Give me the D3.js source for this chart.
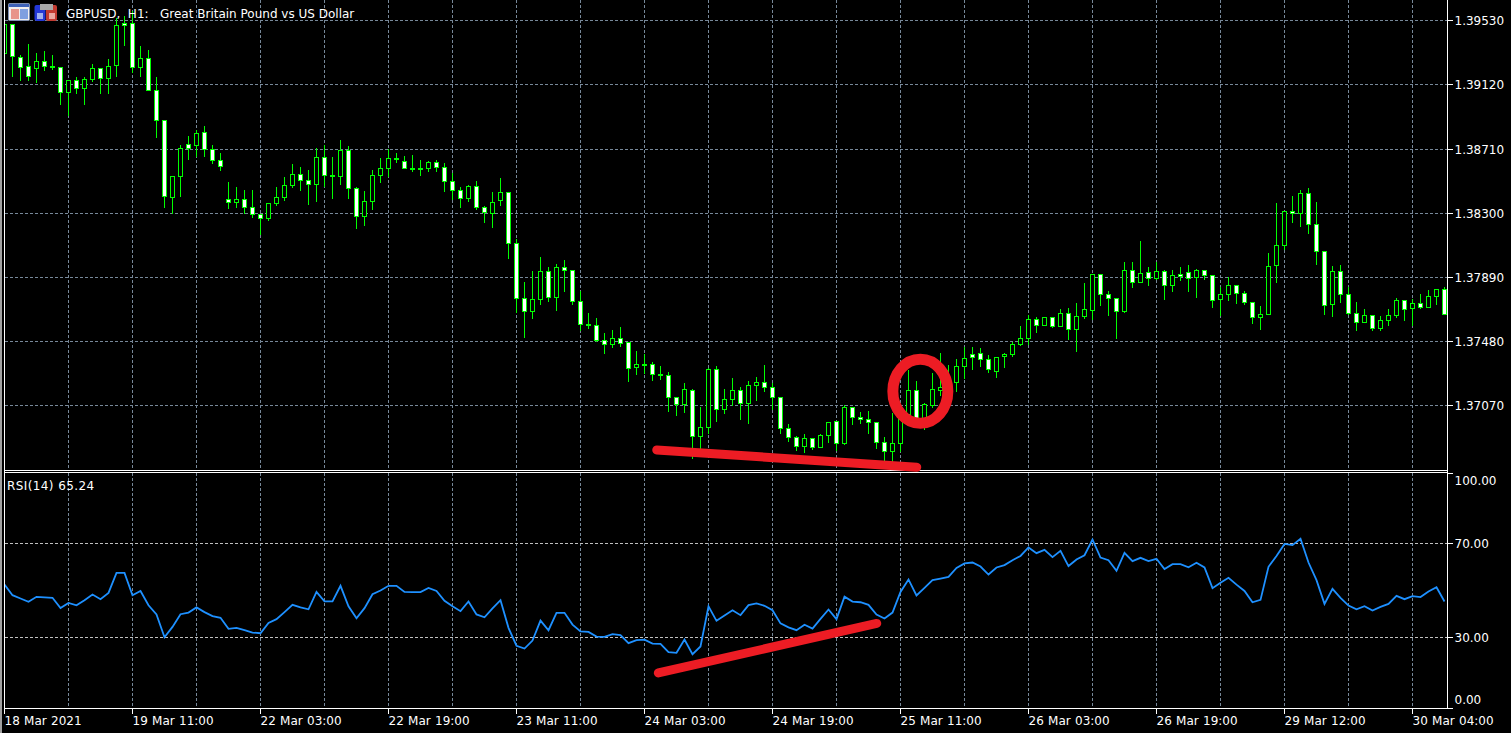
<!DOCTYPE html>
<html>
<head>
<meta charset="utf-8">
<title>GBPUSD H1</title>
<script src="https://cdn.jsdelivr.net/npm/d3@7"></script>
<style>
  html, body { margin: 0; padding: 0; background: #000; overflow: hidden; }
  text { font-family: "DejaVu Sans", sans-serif; font-size: 12px; fill: #fff; }
</style>
</head>
<body>
<div id="chart"></div>
<script>
// GBPUSD H1 candles with RSI(14) pane

const opens = [
  1.39319,1.39505,1.39294,1.39236,1.39223,1.39268,1.39236,1.39230,1.39070,1.39147,
  1.39096,1.39153,1.39223,1.39160,1.39243,1.39511,1.39511,1.39230,1.39287,1.39083,
  1.38891,1.38399,1.38533,1.38738,1.38731,1.38815,1.38706,1.38636,1.38386,1.38367,
  1.38386,1.38335,1.38291,1.38265,1.38361,1.38399,1.38476,1.38546,1.38508,1.38482,
  1.38655,1.38540,1.38533,1.38700,1.38457,1.38278,1.38374,1.38540,1.38585,1.38648,
  1.38629,1.38585,1.38585,1.38585,1.38623,1.38591,1.38501,1.38444,1.38393,1.38469,
  1.38335,1.38297,1.38380,1.38431,1.38105,1.37754,1.37671,1.37747,1.37926,1.37760,
  1.37952,1.37933,1.37735,1.37588,1.37581,1.37485,1.37460,1.37498,1.37473,1.37313,
  1.37332,1.37332,1.37268,1.37262,1.37121,1.37076,1.37166,1.36872,1.36929,1.37300,
  1.37045,1.37108,1.37166,1.37083,1.37198,1.37217,1.37185,1.37121,1.36923,1.36866,
  1.36808,1.36859,1.36802,1.36878,1.36968,1.36827,1.37057,1.36993,1.36981,1.36961,
  1.36834,1.36776,1.36827,1.37012,1.37166,1.36987,1.37070,1.37166,1.37166,1.37217,
  1.37319,1.37396,1.37402,1.37364,1.37287,1.37383,1.37396,1.37460,1.37498,1.37620,
  1.37581,1.37632,1.37575,1.37658,1.37556,1.37639,1.37677,1.37907,1.37779,1.37754,
  1.37671,1.37933,1.37856,1.37920,1.37882,1.37926,1.37837,1.37907,1.37920,1.37888,
  1.37933,1.37901,1.37747,1.37779,1.37837,1.37786,1.37728,1.37632,1.37652,1.37965,
  1.38092,1.38310,1.38297,1.38425,1.38227,1.38054,1.37715,1.37926,1.37779,1.37658,
  1.37600,1.37645,1.37562,1.37613,1.37645,1.37741,1.37690,1.37722,1.37696,1.37767,
  1.37811
];
const closes = [
  1.39505,1.39300,1.39230,1.39172,1.39268,1.39236,1.39230,1.39070,1.39147,1.39096,
  1.39153,1.39223,1.39160,1.39236,1.39498,1.39498,1.39230,1.39287,1.39083,1.38891,
  1.38406,1.38533,1.38712,1.38712,1.38808,1.38706,1.38636,1.38597,1.38367,1.38386,
  1.38335,1.38291,1.38265,1.38361,1.38399,1.38476,1.38546,1.38508,1.38482,1.38655,
  1.38540,1.38533,1.38700,1.38457,1.38278,1.38374,1.38540,1.38585,1.38648,1.38642,
  1.38585,1.38578,1.38578,1.38623,1.38591,1.38501,1.38444,1.38393,1.38469,1.38335,
  1.38303,1.38367,1.38431,1.38105,1.37754,1.37671,1.37747,1.37926,1.37760,1.37952,
  1.37933,1.37735,1.37588,1.37581,1.37485,1.37460,1.37498,1.37466,1.37306,1.37332,
  1.37326,1.37268,1.37262,1.37121,1.37076,1.37172,1.36872,1.36929,1.37300,1.37045,
  1.37108,1.37166,1.37083,1.37198,1.37217,1.37185,1.37121,1.36923,1.36866,1.36808,
  1.36859,1.36802,1.36878,1.36961,1.36827,1.37057,1.36993,1.36981,1.36961,1.36834,
  1.36776,1.36827,1.37012,1.37166,1.36987,1.37076,1.37172,1.37185,1.37217,1.37319,
  1.37370,1.37377,1.37364,1.37300,1.37377,1.37396,1.37460,1.37498,1.37620,1.37581,
  1.37632,1.37575,1.37658,1.37556,1.37639,1.37683,1.37907,1.37779,1.37754,1.37671,
  1.37933,1.37856,1.37914,1.37882,1.37926,1.37837,1.37901,1.37894,1.37882,1.37933,
  1.37901,1.37741,1.37779,1.37837,1.37786,1.37728,1.37632,1.37652,1.37958,1.38092,
  1.38310,1.38297,1.38425,1.38227,1.38054,1.37709,1.37926,1.37779,1.37658,1.37600,
  1.37645,1.37562,1.37613,1.37645,1.37741,1.37683,1.37722,1.37696,1.37767,1.37811,
  1.37652
];
const highs = [
  1.39505,1.39505,1.39313,1.39383,1.39326,1.39338,1.39313,1.39236,1.39147,1.39172,
  1.39172,1.39255,1.39223,1.39287,1.39549,1.39562,1.39594,1.39370,1.39345,1.39172,
  1.38898,1.38533,1.38738,1.38795,1.38834,1.38859,1.38738,1.38687,1.38501,1.38469,
  1.38450,1.38450,1.38291,1.38361,1.38469,1.38533,1.38616,1.38597,1.38578,1.38719,
  1.38738,1.38661,1.38770,1.38731,1.38469,1.38444,1.38578,1.38655,1.38712,1.38687,
  1.38668,1.38674,1.38642,1.38636,1.38642,1.38623,1.38559,1.38469,1.38482,1.38508,
  1.38348,1.38438,1.38527,1.38431,1.38137,1.37862,1.37933,1.38022,1.37958,1.37977,
  1.38003,1.37933,1.37805,1.37664,1.37632,1.37537,1.37556,1.37575,1.37479,1.37422,
  1.37402,1.37351,1.37326,1.37287,1.37128,1.37217,1.37179,1.37064,1.37313,1.37326,
  1.37179,1.37249,1.37191,1.37230,1.37255,1.37332,1.37217,1.37128,1.36955,1.36878,
  1.36891,1.36866,1.36891,1.36968,1.36974,1.37076,1.37064,1.37032,1.37038,1.36961,
  1.36872,1.37025,1.37038,1.37300,1.37230,1.37089,1.37281,1.37409,1.37332,1.37370,
  1.37447,1.37447,1.37441,1.37396,1.37383,1.37409,1.37479,1.37581,1.37652,1.37639,
  1.37639,1.37639,1.37690,1.37696,1.37728,1.37856,1.37914,1.37914,1.37805,1.37760,
  1.37990,1.37990,1.38124,1.37958,1.37990,1.37939,1.37939,1.37958,1.37971,1.37945,
  1.37939,1.37907,1.37830,1.37894,1.37837,1.37805,1.37735,1.37709,1.38048,1.38367,
  1.38310,1.38412,1.38450,1.38463,1.38374,1.38061,1.37965,1.37971,1.37830,1.37735,
  1.37690,1.37645,1.37645,1.37690,1.37760,1.37747,1.37754,1.37786,1.37811,1.37811,
  1.37830
];
const lows = [
  1.39319,1.39172,1.39147,1.39147,1.39134,1.39211,1.39217,1.38996,1.38923,1.39064,
  1.38996,1.39140,1.39064,1.39064,1.39172,1.39370,1.39198,1.39172,1.39083,1.38783,
  1.38335,1.38297,1.38406,1.38642,1.38661,1.38661,1.38616,1.38572,1.38329,1.38335,
  1.38297,1.38271,1.38163,1.38252,1.38348,1.38380,1.38463,1.38444,1.38354,1.38374,
  1.38469,1.38393,1.38482,1.38393,1.38201,1.38220,1.38322,1.38495,1.38533,1.38623,
  1.38585,1.38565,1.38540,1.38565,1.38565,1.38438,1.38386,1.38335,1.38374,1.38322,
  1.38239,1.38207,1.38348,1.38009,1.37664,1.37505,1.37626,1.37715,1.37735,1.37677,
  1.37799,1.37715,1.37549,1.37562,1.37479,1.37402,1.37441,1.37447,1.37223,1.37268,
  1.37275,1.37230,1.37236,1.37032,1.37006,1.37025,1.36731,1.36783,1.36891,1.36968,
  1.37019,1.37070,1.36981,1.36955,1.37102,1.37160,1.37045,1.36891,1.36840,1.36783,
  1.36770,1.36789,1.36802,1.36834,1.36783,1.36821,1.36949,1.36955,1.36891,1.36795,
  1.36706,1.36706,1.36776,1.37000,1.36961,1.36917,1.37057,1.37134,1.37134,1.37160,
  1.37243,1.37300,1.37319,1.37281,1.37249,1.37313,1.37383,1.37453,1.37460,1.37537,
  1.37581,1.37569,1.37575,1.37492,1.37415,1.37626,1.37620,1.37709,1.37645,1.37498,
  1.37664,1.37824,1.37856,1.37837,1.37875,1.37747,1.37799,1.37869,1.37799,1.37760,
  1.37875,1.37696,1.37645,1.37741,1.37722,1.37715,1.37594,1.37556,1.37652,1.37856,
  1.38067,1.38239,1.38214,1.38169,1.37971,1.37652,1.37639,1.37728,1.37652,1.37549,
  1.37600,1.37549,1.37549,1.37581,1.37632,1.37613,1.37581,1.37690,1.37696,1.37715,
  1.37652
];
const rsiValues = [
  52.5,48.0,46.6,45.2,47.3,47.1,46.9,42.5,44.7,43.7,
  45.9,48.3,46.3,49.0,57.5,57.5,48.0,49.8,43.7,39.8,
  30.1,34.5,39.9,40.6,42.8,40.8,39.1,38.4,33.7,34.1,
  33.1,32.1,31.8,36.2,37.8,40.8,43.9,42.8,42.0,49.4,
  45.4,45.4,52.0,43.3,38.2,42.5,48.4,50.0,52.0,52.0,
  49.4,49.3,49.3,51.1,49.8,45.6,43.3,41.2,45.3,39.8,
  38.6,42.4,45.9,34.1,26.5,25.3,28.7,37.2,33.1,40.5,
  40.5,35.5,32.6,32.4,30.4,30.3,31.4,31.0,27.6,28.9,
  29.1,27.4,27.3,23.8,23.5,29.1,22.9,26.2,43.3,37.1,
  39.4,41.6,39.5,43.8,44.5,43.5,41.6,36.0,34.3,33.1,
  35.4,33.8,37.9,41.9,37.8,47.4,45.3,45.0,43.9,39.8,
  38.1,40.6,49.4,54.7,47.9,51.1,54.4,55.1,55.8,59.6,
  61.5,61.9,60.2,56.8,59.8,60.8,62.9,64.7,68.3,65.9,
  67.3,64.2,66.9,60.4,63.2,65.0,71.7,64.0,62.9,58.4,
  66.0,62.5,63.9,62.5,63.5,59.1,61.2,61.2,59.9,61.8,
  59.8,51.0,53.3,55.4,52.5,49.8,45.0,46.0,60.1,64.7,
  69.8,69.3,72.0,61.9,54.4,44.3,50.7,46.9,43.6,42.0,
  43.3,41.5,43.0,44.3,47.7,46.3,47.6,47.2,49.6,51.4,
  45.3
];

const priceTicks = [1.3953, 1.3912, 1.3871, 1.383, 1.3789, 1.3748, 1.3707];
const rsiTicks = [100, 70, 30, 0];
const dateIndex = [0, 16, 32, 48, 64, 80, 96, 112, 128, 144, 160, 176];
const dateLabels = ["18 Mar 2021", "19 Mar 11:00", "22 Mar 03:00", "22 Mar 19:00", "23 Mar 11:00",
  "24 Mar 03:00", "24 Mar 19:00", "25 Mar 11:00", "26 Mar 03:00", "26 Mar 19:00", "29 Mar 12:00", "30 Mar 04:00"];
const gridIndex = d3.range(8, 181, 8);

// hand drawn marks, as [bar index, value]
const priceTrend = [[81.53, 1.36786], [114.03, 1.36675]];
const rsiTrend = [[81.73, 14.9], [109.03, 36.0]];
const ringCentre = [114.48, 1.37161];

const width = 1511, height = 733;
const left = 4.5, right = 1447.5;
const mainBottom = 470.5, rsiTop = 472.5, rsiBottom = 708.5;
const red = "#ed1c24";

const svg = d3.select("#chart").append("svg")
  .attr("width", width)
  .attr("height", height)
  .style("display", "block")
  .style("background", "#000");

const x = d3.scaleLinear().domain([0, 180]).range([4.5, 1444.5]);
const y = d3.scaleLinear().domain([1.3953, 1.3707]).range([20.5, 405.5]);
const yRsi = d3.scaleLinear().domain([0, 100]).range([708, 473]);

// snap to a pixel row so 1px lines stay sharp
const py = p => Math.floor(y(p) + 0.2) + 0.5;

svg.append("clipPath").attr("id", "plot")
  .append("rect").attr("x", 5).attr("y", 0).attr("width", right - 5).attr("height", mainBottom);
svg.append("clipPath").attr("id", "plotRsi")
  .append("rect").attr("x", 5).attr("y", rsiTop).attr("width", right - 5).attr("height", rsiBottom - rsiTop);

// Grid
const grid = svg.append("g").attr("shape-rendering", "crispEdges").attr("stroke-dasharray", "3,2");
grid.selectAll(".vMain").data(gridIndex).join("line")
  .attr("class", "vMain")
  .attr("x1", d => x(d)).attr("x2", d => x(d)).attr("y1", 0).attr("y2", mainBottom)
  .attr("stroke", "#778899");
grid.selectAll(".vRsi").data(gridIndex).join("line")
  .attr("class", "vRsi")
  .attr("x1", d => x(d)).attr("x2", d => x(d)).attr("y1", rsiTop).attr("y2", rsiBottom)
  .attr("stroke", "#778899");
grid.selectAll(".hMain").data(priceTicks).join("line")
  .attr("class", "hMain")
  .attr("x1", left).attr("x2", right).attr("y1", d => py(d)).attr("y2", d => py(d))
  .attr("stroke", "#778899");
grid.selectAll(".hRsi").data([70, 30]).join("line")
  .attr("class", "hRsi")
  .attr("x1", left).attr("x2", right).attr("y1", d => yRsi(d)).attr("y2", d => yRsi(d))
  .attr("stroke", "#c0c0c0");

// Candles
const candles = svg.append("g")
  .attr("clip-path", "url(#plot)")
  .attr("shape-rendering", "crispEdges")
  .selectAll("g")
  .data(opens.map((o, i) => ({ i, o, h: highs[i], l: lows[i], c: closes[i] })))
  .join("g");

candles.append("line")
  .attr("x1", d => x(d.i)).attr("x2", d => x(d.i))
  .attr("y1", d => py(d.h)).attr("y2", d => py(d.l) + 0.5)
  .attr("stroke", "#00ff00");

candles.append("rect")
  .attr("x", d => x(d.i) - 2)
  .attr("width", 4)
  .attr("y", d => py(Math.max(d.o, d.c)))
  .attr("height", d => py(Math.min(d.o, d.c)) - py(Math.max(d.o, d.c)))
  .attr("fill", d => d.c < d.o ? "#fff" : "#000")
  .attr("stroke", "#00ff00");

// RSI
const rsiLine = d3.line().x((d, i) => x(i)).y(d => yRsi(d));
svg.append("path")
  .datum(rsiValues)
  .attr("clip-path", "url(#plotRsi)")
  .attr("fill", "none")
  .attr("stroke", "#1e90ff")
  .attr("stroke-width", 1.8)
  .attr("d", rsiLine);

// Frame
const frame = svg.append("g").attr("stroke", "#fff").attr("shape-rendering", "crispEdges");
[mainBottom, rsiTop, rsiBottom].forEach(v => {
  frame.append("line").attr("x1", left).attr("x2", right).attr("y1", v).attr("y2", v);
});
frame.append("line").attr("x1", left).attr("x2", left).attr("y1", 0).attr("y2", rsiBottom);
frame.append("line").attr("x1", right).attr("x2", right).attr("y1", 0).attr("y2", rsiBottom);
svg.append("rect").attr("x", 0).attr("y", 0).attr("width", 2).attr("height", height).attr("fill", "#a0a0a0");

// Axes
const priceAxis = svg.append("g")
  .attr("transform", `translate(${right},0)`)
  .call(d3.axisRight(y).tickValues(priceTicks).tickFormat(d3.format(".5f")).tickSize(5).tickPadding(2).offset(0));
priceAxis.select(".domain").remove();
priceAxis.selectAll(".tick").attr("transform", d => `translate(0,${py(d)})`);
priceAxis.selectAll("line").attr("stroke", "#fff").attr("shape-rendering", "crispEdges");
priceAxis.selectAll("text").attr("fill", "#fff").attr("y", 1);

const rsiAxis = svg.append("g")
  .attr("transform", `translate(${right},0)`)
  .call(d3.axisRight(yRsi).tickValues(rsiTicks).tickFormat(d3.format(".2f")).tickSize(5).tickPadding(2).offset(0));
rsiAxis.select(".domain").remove();
rsiAxis.selectAll("line").attr("stroke", "#fff").attr("shape-rendering", "crispEdges");
// the end labels sit inside the pane
rsiAxis.selectAll("text").attr("fill", "#fff")
  .attr("y", d => d === 100 ? 8 : d === 0 ? -8 : 0.5);

const xAxis = svg.append("g")
  .attr("transform", `translate(0,${rsiBottom})`)
  .call(d3.axisBottom(x).tickValues(dateIndex)
    .tickFormat((d, i) => dateLabels[i]).tickSize(5).tickPadding(3).offset(0));
xAxis.select(".domain").remove();
xAxis.selectAll("line").attr("stroke", "#fff").attr("shape-rendering", "crispEdges");
xAxis.selectAll("text")
  .attr("fill", "#fff")
  .attr("text-anchor", "start")
  .style("word-spacing", "0.5px");

// Title and pane label
svg.append("text").attr("x", 66).attr("y", 18)
  .style("white-space", "pre")
  .text("GBPUSD,  H1:   Great Britain Pound vs US Dollar");
svg.append("text").attr("x", 7).attr("y", 489.5)
  .attr("letter-spacing", 0.4)
  .text("RSI(14) 65.24");

// Terminal icons
const icon = svg.append("g");
icon.append("rect").attr("x", 8.5).attr("y", 3.5).attr("width", 21).attr("height", 17).attr("rx", 1).attr("fill", "#f2eeee").attr("stroke", "#7f8fb0");
icon.append("rect").attr("x", 9).attr("y", 4).attr("width", 20).attr("height", 3).attr("fill", "#3f62b8");
icon.append("rect").attr("x", 11).attr("y", 9).attr("width", 8).attr("height", 10).attr("fill", "#e8958a");
icon.append("rect").attr("x", 20).attr("y", 9).attr("width", 8).attr("height", 10).attr("fill", "#7f9fe0");
icon.append("rect").attr("x", 34.5).attr("y", 5).attr("width", 11).attr("height", 16).attr("rx", 2).attr("fill", "#2438d8");
icon.append("rect").attr("x", 46).attr("y", 5).attr("width", 11).attr("height", 16).attr("rx", 2).attr("fill", "#c23a30");
icon.append("rect").attr("x", 40).attr("y", 4).attr("width", 13).attr("height", 6).attr("fill", "#a8a8a8");
icon.append("rect").attr("x", 37).attr("y", 13).attr("width", 6).attr("height", 6).attr("fill", "#9fb0f0");
icon.append("rect").attr("x", 49).attr("y", 13).attr("width", 6).attr("height", 6).attr("fill", "#e8a8a0");

// Hand drawn red marks
const toPricePx = d => [x(d[0]), y(d[1])];
const toRsiPx = d => [x(d[0]), yRsi(d[1])];
svg.append("path")
  .attr("d", d3.line()(priceTrend.map(toPricePx)))
  .attr("fill", "none").attr("stroke", red).attr("stroke-width", 9).attr("stroke-linecap", "round");
svg.append("path")
  .attr("d", d3.line()(rsiTrend.map(toRsiPx)))
  .attr("fill", "none").attr("stroke", red).attr("stroke-width", 9).attr("stroke-linecap", "round");
svg.append("ellipse")
  .attr("cx", x(ringCentre[0])).attr("cy", y(ringCentre[1]))
  .attr("rx", 27.5).attr("ry", 32)
  .attr("fill", "none").attr("stroke", red).attr("stroke-width", 11);
</script>
</body>
</html>
